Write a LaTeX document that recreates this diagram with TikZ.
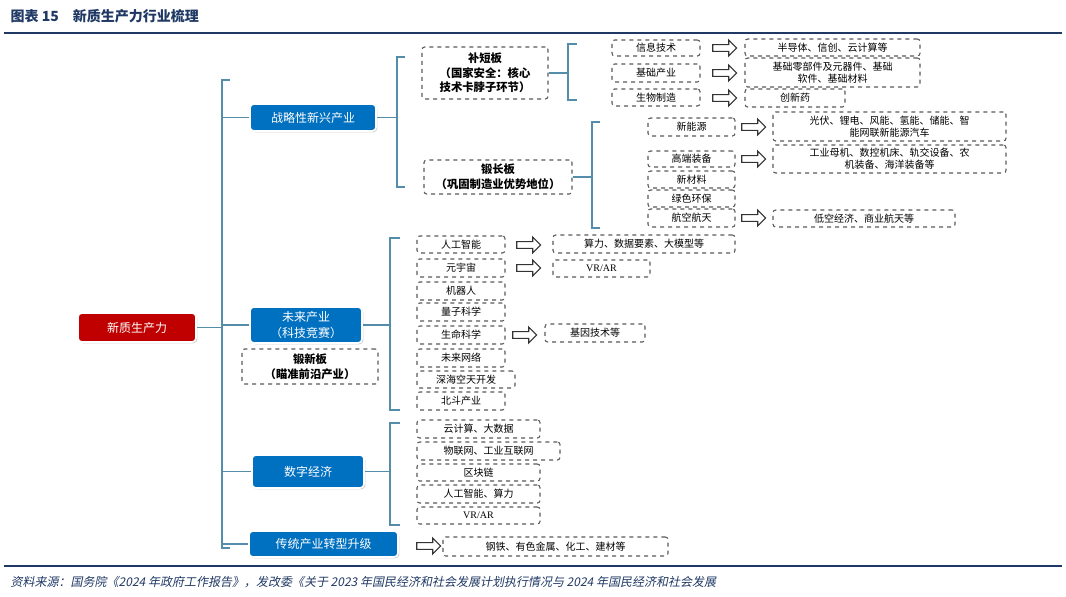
\documentclass[tikz,border=0pt]{standalone}
\usepackage{fontspec}
\setmainfont{Liberation Serif}
\newfontfamily\cjk{Noto Sans CJK SC}
\newfontfamily\cjkslant[FakeSlant=0.2]{Noto Sans CJK SC}
\usetikzlibrary{positioning, shapes.arrows, shadows}
\definecolor{boxblue}{RGB}{0,112,192}
\definecolor{boxred}{RGB}{192,0,0}
\definecolor{linkblue}{RGB}{84,141,170}
\definecolor{rulenavy}{RGB}{31,56,100}
% box from pixel corners: name, style, x1, y1, x2, y2, text
\newcommand\bx[7]{\node[#2, minimum width={(#5-#3)*0.75pt}, minimum height={(#6-#4)*0.75pt}] (#1) at ({(#3+#5)/2},{(#4+#6)/2}) {#7};}

\begin{document}
\begin{tikzpicture}[x=0.75pt, y=-0.75pt, font=\cjk\fontsize{7.5}{9}\selectfont]
  % Styles
  \tikzset{dbox/.style={draw=gray!70!black, dashed, thick, rounded corners=2pt, inner sep=0pt, align=center}}
  \tikzset{bigbox/.style={dbox, font=\cjk\bfseries\fontsize{8.5}{11}\selectfont}}
  \tikzset{solidbox/.style={draw=white, line width=1.2pt, rounded corners=3pt, inner sep=0pt, align=center, text=white,
      font=\cjk\fontsize{9}{12}\selectfont, drop shadow={opacity=0.35, shadow xshift=1pt, shadow yshift=-1pt}}}
  \tikzset{hollow/.style={single arrow, draw=black!80, thick, fill=white, minimum height=18pt, minimum width=12pt,
      single arrow head extend=2.5pt, inner sep=1.5pt}}
  \tikzset{brace/.style={draw=linkblue, thick}}

  \useasboundingbox (0,0) rectangle (1066,596);

  % Title and rules
  \node[anchor=west, font=\cjk\bfseries\fontsize{10.5}{12}\selectfont, text=rulenavy] (title) at (6,16) {图表 15\quad 新质生产力行业梳理};
  \draw[rulenavy, line width=1.5pt] (4,33) -- (1062,33);
  \draw[rulenavy, line width=1.2pt] (4,566) -- (1062,566);
  \node[anchor=west, font=\cjkslant\fontsize{9}{11}\selectfont, text=rulenavy] (source) at (6,582)
    {资料来源：国务院《2024 年政府工作报告》，发改委《关于 2023 年国民经济和社会发展计划执行情况与 2024 年国民经济和社会发展};

  % Level 1 and 2
  \bx{root}{solidbox, fill=boxred}{78}{313}{196}{342}{新质生产力}
  \bx{strat}{solidbox, fill=boxblue}{250}{104}{376}{131}{战略性新兴产业}
  \bx{future}{solidbox, fill=boxblue}{250}{307}{362}{343}{未来产业\\（科技竞赛）}
  \bx{forge}{bigbox}{242}{349}{378}{384}{锻新板\\（瞄准前沿产业）}
  \bx{digital}{solidbox, fill=boxblue}{252}{455}{364}{488}{数字经济}
  \bx{trad}{solidbox, fill=boxblue}{249}{531}{398}{557}{传统产业转型升级}

  % Main bracket
  \coordinate (mainx) at (222,0);
  \draw[brace] (root.east) -- (root.east -| mainx);
  \draw[brace] (230,80) -- (222,80) -- (222,548) -- (230,548);
  \draw[brace] (strat.west) -- (strat.west -| mainx);
  \draw[brace] (future.west) -- (future.west -| mainx);
  \draw[brace] (digital.west) -- (digital.west -| mainx);
  \draw[brace] (trad.west) -- (trad.west -| mainx);

  % Strategic industries
  \bx{short}{bigbox}{422}{47}{548}{99}{补短板\\（国家安全：核心\\技术卡脖子环节）}
  \bx{long}{bigbox}{424}{160}{572}{194}{锻长板\\（巩固制造业优势地位）}
  \draw[brace] (strat.east) -- (strat.east -| 397,0);
  \draw[brace] (405,57) -- (397,57) -- (397,187) -- (405,187);
  \draw[brace] (short.east) -- (short.east -| 568,0);
  \draw[brace] (577,44) -- (568,44) -- (568,100) -- (577,100);
  \draw[brace] (long.east) -- (long.east -| 592,0);
  \draw[brace] (600,122) -- (592,122) -- (592,228) -- (600,228);

  \bx{it}{dbox}{612}{40}{700}{56}{信息技术}
  \bx{base}{dbox}{612}{64}{700}{82}{基础产业}
  \bx{bio}{dbox}{612}{89}{700}{106}{生物制造}
  \node[hollow] (a1) at (723,48) {};
  \node[hollow] (a2) at (723,73) {};
  \node[hollow] (a3) at (723,98) {};
  \bx{itr}{dbox}{745}{39}{920}{56}{半导体、信创、云计算等}
  \bx{baser}{dbox}{745}{58}{920}{87}{基础零部件及元器件、基础\\软件、基础材料}
  \bx{bior}{dbox}{745}{89}{845}{107}{创新药}

  \bx{energy}{dbox}{648}{118}{735}{136}{新能源}
  \bx{equip}{dbox}{648}{151}{735}{167}{高端装备}
  \bx{mater}{dbox}{648}{171}{735}{188}{新材料}
  \bx{green}{dbox}{648}{190}{735}{207}{绿色环保}
  \bx{aero}{dbox}{648}{209}{735}{227}{航空航天}
  \node[hollow] (a4) at (752,127) {};
  \node[hollow] (a5) at (752,159) {};
  \node[hollow] (a6) at (752,218) {};
  \bx{energyr}{dbox}{773}{112}{1006}{141}{光伏、锂电、风能、氢能、储能、智\\能网联新能源汽车}
  \bx{equipr}{dbox}{773}{145}{1006}{173}{工业母机、数控机床、轨交设备、农\\机装备、海洋装备等}
  \bx{aeror}{dbox}{773}{210}{955}{227}{低空经济、商业航天等}

  % Future industries
  \draw[brace] (future.east) -- (future.east -| 390,0);
  \draw[brace] (400,238) -- (390,238) -- (390,410) -- (400,410);
  \bx{ai}{dbox}{417}{236}{505}{253}{人工智能}
  \bx{meta}{dbox}{417}{259}{505}{277}{元宇宙}
  \bx{robot}{dbox}{417}{282}{505}{300}{机器人}
  \bx{quant}{dbox}{417}{303}{505}{321}{量子科学}
  \bx{life}{dbox}{417}{326}{505}{344}{生命科学}
  \bx{net}{dbox}{417}{349}{505}{367}{未来网络}
  \bx{deep}{dbox}{417}{371}{515}{388}{深海空天开发}
  \bx{beidou}{dbox}{417}{392}{505}{410}{北斗产业}
  \node[hollow] (a7) at (527,245) {};
  \node[hollow] (a8) at (527,268) {};
  \node[hollow] (a9) at (523,335) {};
  \bx{air}{dbox}{553}{235}{735}{253}{算力、数据要素、大模型等}
  \bx{metar}{dbox}{553}{260}{650}{277}{\rmfamily VR/AR}
  \bx{lifer}{dbox}{545}{324}{645}{342}{基因技术等}

  % Digital economy
  \draw[brace] (digital.east) -- (digital.east -| 390,0);
  \draw[brace] (400,423) -- (390,423) -- (390,525) -- (400,525);
  \bx{cloud}{dbox}{417}{420}{540}{438}{云计算、大数据}
  \bx{iot}{dbox}{417}{442}{560}{460}{物联网、工业互联网}
  \bx{chain}{dbox}{417}{464}{540}{481}{区块链}
  \bx{aic}{dbox}{417}{485}{540}{503}{人工智能、算力}
  \bx{vr}{dbox}{417}{507}{540}{524}{\rmfamily VR/AR}

  % Traditional industries
  \node[hollow] (a10) at (427,546) {};
  \bx{tradr}{dbox}{443}{537}{668}{556}{钢铁、有色金属、化工、建材等}
\end{tikzpicture}
\end{document}
